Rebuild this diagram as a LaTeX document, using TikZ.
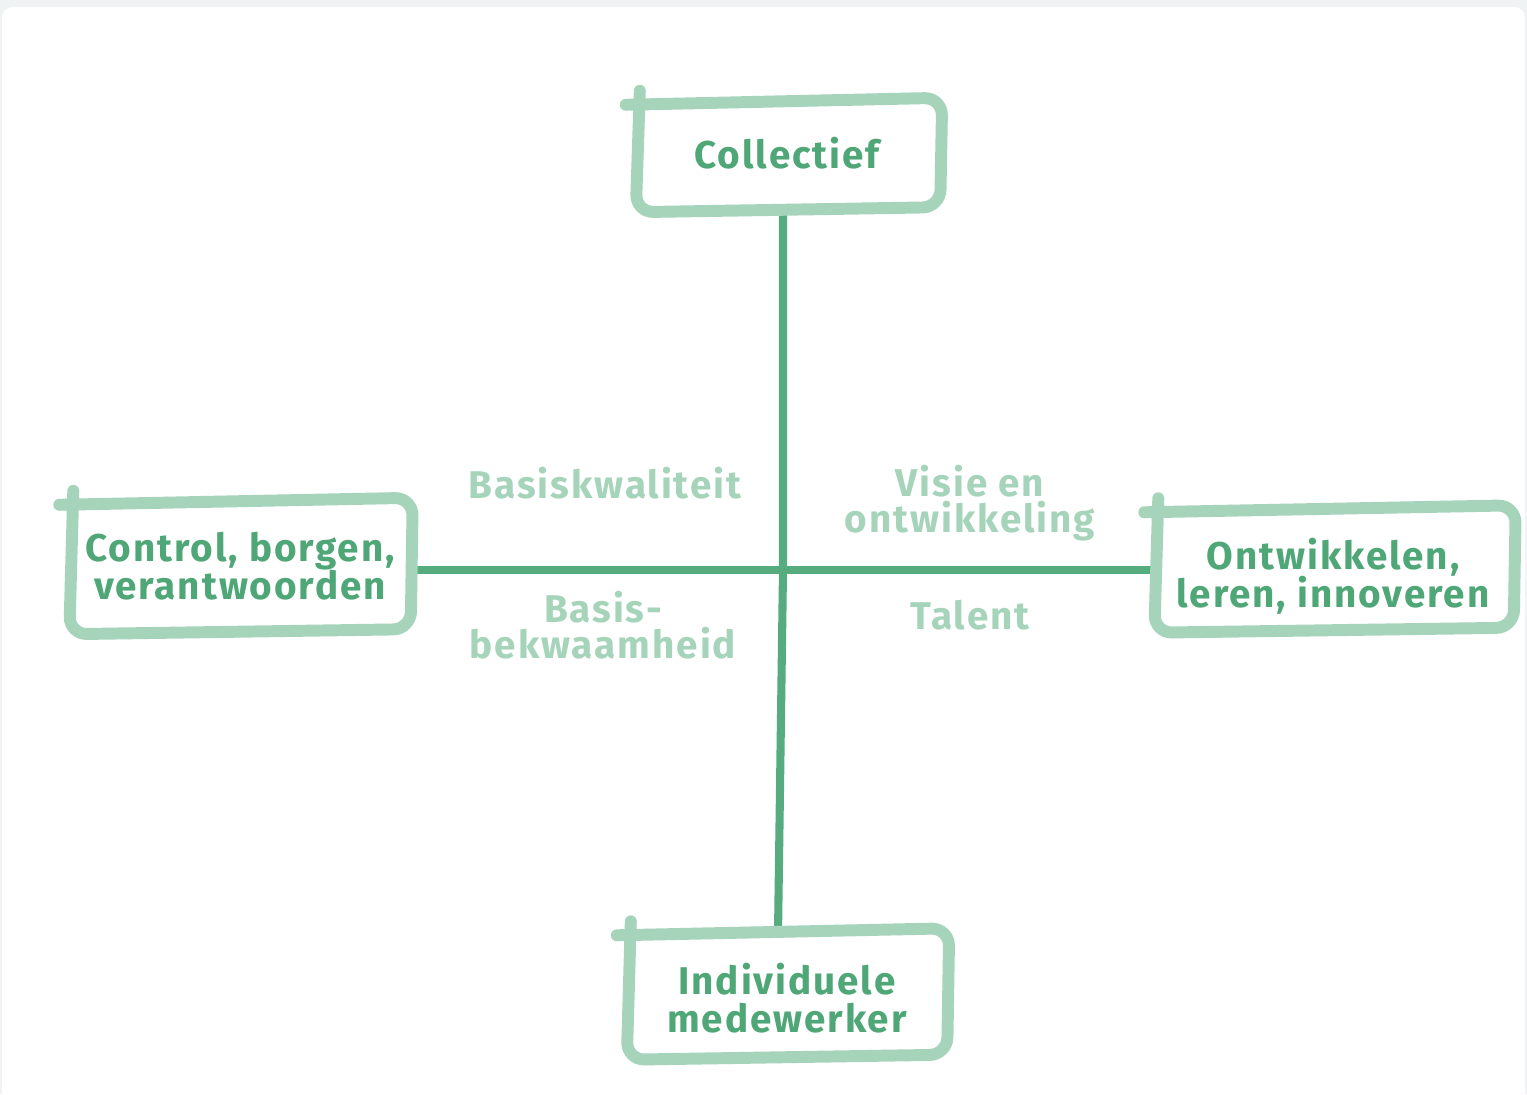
\documentclass[tikz,border=0pt]{standalone}
\usepackage{fontspec}
\setmainfont{Fira Sans}
\newfontfamily\handfont[LetterSpace=5]{Fira Sans}
\usepackage{tikz}
\usetikzlibrary{calc}

\definecolor{boxgreen}{HTML}{A6D4BB}
\definecolor{textgreen}{HTML}{4FA676}
\definecolor{axisgreen}{HTML}{56AC7F}
\definecolor{bggray}{HTML}{EFF3F4}

\newcommand{\handbox}[1]{%
\draw[boxline] ([shift={(0.04,0.13)}]#1.north west) -- ([shift={(0,-0.02)}]#1.south west) -- ([shift={(0,0.03)}]#1.south east) -- ([shift={(0.02,0.06)}]#1.north east) -- ([shift={(-0.1,-0.01)}]#1.north west);}

\begin{document}
\begin{tikzpicture}[
  boxline/.style={line width=3.4pt, color=boxgreen, rounded corners=5pt, line cap=round},
  axisline/.style={line width=2.3pt, color=axisgreen},
  boxtext/.style={align=center, text=textgreen, font=\handfont\bfseries\fontsize{11}{10.9}\selectfont, inner sep=0pt},
  quadtext/.style={align=center, text=boxgreen, font=\handfont\bfseries\fontsize{11}{10.3}\selectfont, inner sep=0pt}]
\useasboundingbox (0,0) rectangle (15.27,10.94);
\fill[bggray] (0,0) rectangle (15.27,10.94);
\fill[white, rounded corners=3pt] (0.02,-0.1) rectangle (15.25,10.87);
\node[minimum width=3.03cm, minimum height=1.05cm] (coll) at (7.88,9.37) {};
\node[minimum width=3.40cm, minimum height=1.27cm] (control) at (2.40,5.26) {};
\node[minimum width=3.58cm, minimum height=1.18cm] (ontw) at (13.34,5.23) {};
\node[minimum width=3.19cm, minimum height=1.22cm] (indiv) at (7.87,0.98) {};
\coordinate (mid) at (7.83,5.24);
\draw[axisline] (coll.south -| mid) -- (mid) -- ([xshift=-0.09cm]indiv.north);
\draw[axisline] (control.east |- mid) -- (mid) -- (ontw.west |- mid);
\handbox{coll}
\handbox{control}
\handbox{ontw}
\handbox{indiv}
\node[boxtext] (collt) at (7.87,9.41) {Collectief};
\node[boxtext] (controlt) at (2.40,5.28) {Control, borgen,\\verantwoorden};
\node[boxtext] (ontwt) at (13.33,5.18) {Ontwikkelen,\\leren, innoveren};
\node[boxtext] (indivt) at (7.87,0.96) {Individuele\\medewerker};
\node[quadtext] (kwal) at (6.05,6.11) {Basiskwaliteit};
\node[quadtext] (visie) at (9.70,5.91) {Visie en\\ontwikkeling};
\node[quadtext] (bekw) at (6.03,4.69) {Basis-\\bekwaamheid};
\node[quadtext] (talent) at (9.70,4.79) {Talent};
\end{tikzpicture}
\end{document}
